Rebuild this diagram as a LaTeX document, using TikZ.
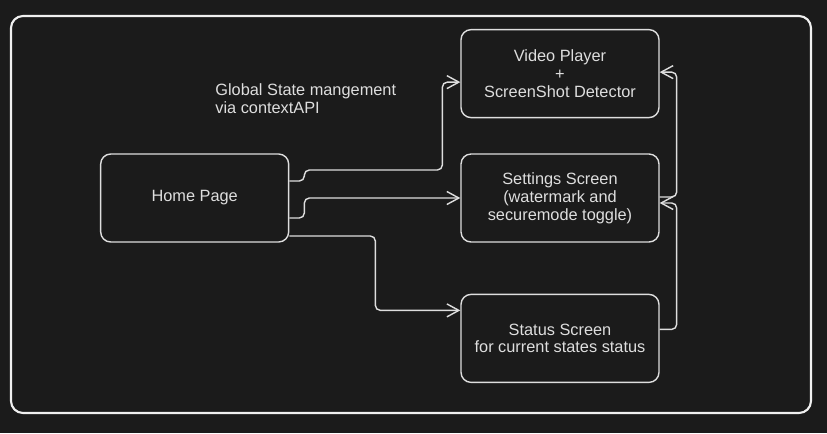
\documentclass[tikz,border=0pt]{standalone}
\usepackage{fontspec}
\setmainfont{Liberation Sans}
\usetikzlibrary{arrows.meta,positioning}
\definecolor{canvasbg}{HTML}{1B1B1B}
\definecolor{inkgrey}{HTML}{DEDEDE}

\begin{document}
\begin{tikzpicture}[x=0.02cm, y=-0.02cm,
    screen/.style={draw=inkgrey, rounded corners=0.2cm, line width=0.8pt, minimum width=3.96cm, minimum height=1.76cm,
        align=center, text=inkgrey, font=\fontsize{9.3}{10.2}\selectfont},
    link/.style={draw=inkgrey, line width=0.8pt, rounded corners=0.1cm, -{Straight Barb[length=2.4mm,width=2.6mm]}},
]
\fill[canvasbg] (0,0) rectangle (827,433);
\useasboundingbox (0,0) rectangle (827,433);
\draw[white!94!black, line width=1.2pt, rounded corners=0.24cm] (11,16) rectangle (811,413);

\node[screen] (settings) at (560,198) {Settings Screen\\(watermark and\\securemode toggle)};
\node[screen, above=0.7cm of settings] (video) {Video Player\\+\\ScreenShot Detector};
\node[screen, below=1.02cm of settings] (status) {Status Screen\\for current states status};
\node[screen, minimum width=3.76cm, left=3.42cm of settings] (home) {Home Page};
\node[text=inkgrey, align=left, anchor=west, inner sep=0pt, font=\fontsize{9.3}{10.2}\selectfont] (note) at (215,99)
    {Global State mangement\\via contextAPI};

\draw[link] ([yshift=0.34cm]home.east) -- ++(15,0) -- ++(0,-11) -- ++(138,0) |- ([yshift=-0.17cm]video.west);
\draw[link] ([yshift=-0.4cm]home.east) -- ++(15,0) |- (settings.west);
\draw[link] ([yshift=-0.76cm]home.east) -- ++(86,0) |- ([yshift=0.56cm]status.west);
\draw[link] ([yshift=0.18cm]status.east) -- ++(17,0) |- ([yshift=-0.1cm]settings.east);
\draw[link] ([yshift=0.02cm]settings.east) -- ++(17,0) |- ([yshift=0.03cm]video.east);
\end{tikzpicture}
\end{document}
